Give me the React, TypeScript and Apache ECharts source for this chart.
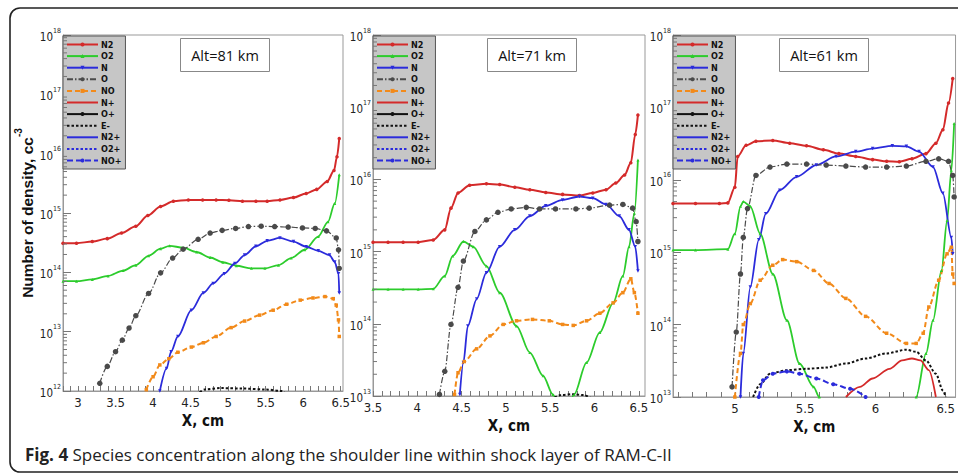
import React, { useEffect, useRef } from 'react';
import * as echarts from 'echarts';

type Pt = [number, number];

const speciesNames = ['N2', 'O2', 'N', 'O', 'NO', 'N+', 'O+', 'E-', 'N2+', 'O2+', 'NO+'];
const altitudeLabels = ['Alt=81 km', 'Alt=71 km', 'Alt=61 km'];
const xLabelValues = [3, 3.5, 4, 4.5, 5, 5.5, 6, 6.5];
const captionBold = 'Fig. 4';
const captionText = 'Species concentration along the shoulder line within shock layer of RAM-C-II';

// ---------- Alt = 81 km ----------
const alt81_N2: Pt[] = [[2.8, 3.1e14], [2.98, 3.1e14], [3.19, 3.3e14], [3.39, 3.7e14], [3.58, 4.6e14], [3.77, 6.0e14], [3.93, 9.1e14], [4.1, 1.29e15], [4.27, 1.58e15], [4.47, 1.66e15], [4.66, 1.66e15], [4.84, 1.66e15], [5.01, 1.64e15], [5.19, 1.58e15], [5.37, 1.58e15], [5.52, 1.58e15], [5.69, 1.66e15], [5.87, 1.82e15], [6.04, 2.14e15], [6.18, 2.5e15], [6.32, 3.4e15], [6.41, 5.2e15], [6.45, 8.9e15], [6.48, 1.8e16]];
const alt81_O2: Pt[] = [[2.8, 7.1e13], [2.98, 7.1e13], [3.19, 7.6e13], [3.4, 8.7e13], [3.6, 1.07e14], [3.77, 1.32e14], [3.94, 1.9e14], [4.1, 2.5e14], [4.22, 2.8e14], [4.4, 2.6e14], [4.58, 2.2e14], [4.76, 1.78e14], [4.93, 1.48e14], [5.11, 1.29e14], [5.31, 1.17e14], [5.49, 1.17e14], [5.67, 1.32e14], [5.84, 1.74e14], [6.02, 2.4e14], [6.2, 4.0e14], [6.33, 7.1e14], [6.42, 1.45e15], [6.48, 4.4e15]];
const alt81_N: Pt[] = [[4.09, 1.0e12], [4.18, 2.4e12], [4.24, 4.6e12], [4.33, 8.3e12], [4.51, 2.3e13], [4.67, 4.5e13], [4.8, 6.5e13], [4.95, 9.5e13], [5.09, 1.41e14], [5.22, 1.95e14], [5.37, 2.75e14], [5.52, 3.4e14], [5.69, 3.8e14], [5.87, 3.3e14], [6.04, 2.7e14], [6.2, 2.3e14], [6.35, 1.95e14], [6.42, 1.5e14], [6.47, 9.5e13], [6.48, 4.5e13]];
const alt81_O: Pt[] = [[3.29, 1.35e12], [3.39, 2.6e12], [3.5, 4.6e12], [3.59, 7.2e12], [3.68, 1.15e13], [3.77, 1.86e13], [3.94, 4.4e13], [4.1, 9.8e13], [4.26, 1.74e14], [4.4, 2.45e14], [4.6, 3.6e14], [4.76, 4.6e14], [4.92, 5.1e14], [5.1, 5.5e14], [5.27, 5.9e14], [5.44, 6.0e14], [5.62, 5.9e14], [5.8, 5.8e14], [5.99, 5.6e14], [6.16, 5.5e14], [6.31, 5.0e14], [6.44, 3.8e14], [6.47, 2.4e14], [6.48, 1.17e14]];
const alt81_NO: Pt[] = [[3.91, 1.05e12], [4.0, 1.74e12], [4.09, 2.75e12], [4.21, 3.5e12], [4.33, 4.5e12], [4.51, 5.5e12], [4.67, 6.5e12], [4.84, 8.3e12], [5.04, 1.17e13], [5.22, 1.51e13], [5.42, 1.9e13], [5.6, 2.3e13], [5.78, 2.9e13], [5.96, 3.4e13], [6.13, 3.7e13], [6.29, 3.9e13], [6.4, 3.6e13], [6.44, 2.8e13], [6.47, 1.58e13], [6.48, 8.3e12]];
const alt81_Em: Pt[] = [[4.62, 9.6e11], [4.7, 1.07e12], [4.9, 1.12e12], [5.2, 1.1e12], [5.5, 1.06e12], [5.72, 1.0e12], [5.76, 9.0e11]];

// ---------- Alt = 71 km ----------
const alt71_N2: Pt[] = [[3.5, 1.35e15], [3.67, 1.35e15], [3.84, 1.35e15], [4.01, 1.35e15], [4.18, 1.45e15], [4.31, 2.0e15], [4.38, 4.0e15], [4.46, 6.5e15], [4.59, 8.3e15], [4.78, 8.7e15], [4.93, 8.5e15], [5.1, 7.8e15], [5.27, 7.2e15], [5.45, 6.6e15], [5.64, 6.2e15], [5.83, 6.0e15], [5.98, 6.5e15], [6.13, 7.2e15], [6.24, 8.9e15], [6.34, 1.15e16], [6.41, 1.7e16], [6.46, 4.2e16], [6.49, 7.8e16]];
const alt71_O2: Pt[] = [[3.5, 3.0e14], [3.67, 3.0e14], [3.84, 3.0e14], [4.01, 3.0e14], [4.18, 3.05e14], [4.31, 4.6e14], [4.4, 8.7e14], [4.52, 1.38e15], [4.63, 1.17e15], [4.78, 6.3e14], [4.93, 2.7e14], [5.12, 9.3e13], [5.27, 4.0e13], [5.42, 1.9e13], [5.53, 1.05e13], [5.65, 4.0e12], [5.77, 1.05e13], [5.91, 2.9e13], [6.06, 7.6e13], [6.21, 1.95e14], [6.32, 4.6e14], [6.39, 1.17e15], [6.45, 3.4e15], [6.49, 1.86e16]];
const alt71_N: Pt[] = [[4.48, 1.05e13], [4.52, 2.9e13], [4.57, 9.3e13], [4.67, 2.2e14], [4.78, 5.1e14], [4.93, 1.17e15], [5.1, 2.0e15], [5.27, 3.1e15], [5.45, 4.3e15], [5.64, 5.2e15], [5.83, 5.8e15], [5.98, 5.5e15], [6.13, 4.5e15], [6.28, 3.1e15], [6.39, 2.0e15], [6.46, 1.17e15], [6.49, 5.4e14]];
const alt71_O: Pt[] = [[4.25, 1.05e13], [4.31, 2.2e13], [4.38, 9.8e13], [4.46, 3.2e14], [4.52, 7.4e14], [4.65, 1.9e15], [4.78, 2.75e15], [4.91, 3.5e15], [5.06, 3.9e15], [5.23, 4.1e15], [5.38, 3.9e15], [5.56, 3.9e15], [5.79, 3.9e15], [5.94, 4.0e15], [6.17, 4.4e15], [6.32, 4.5e15], [6.43, 4.0e15], [6.47, 2.6e15], [6.49, 1.38e15]];
const alt71_NO: Pt[] = [[4.42, 1.05e13], [4.46, 2.1e13], [4.53, 3.0e13], [4.67, 4.5e13], [4.82, 6.8e13], [4.97, 9.8e13], [5.12, 1.1e14], [5.3, 1.15e14], [5.49, 1.1e14], [5.64, 9.8e13], [5.76, 9.5e13], [5.91, 1.1e14], [6.06, 1.4e14], [6.21, 1.95e14], [6.32, 2.7e14], [6.41, 4.2e14], [6.45, 2.7e14], [6.49, 1.4e14]];
const alt71_Em: Pt[] = [[5.55, 9.5e12], [5.62, 1.03e13], [5.75, 1.06e13], [5.88, 1.03e13], [5.95, 9.5e12]];

// ---------- Alt = 61 km ----------
const alt61_N2: Pt[] = [[4.56, 4.7e15], [4.72, 4.7e15], [4.89, 4.7e15], [4.95, 4.8e15], [5.0, 7.9e15], [5.02, 2.1e16], [5.08, 3.0e16], [5.15, 3.4e16], [5.27, 3.5e16], [5.39, 3.2e16], [5.51, 2.95e16], [5.63, 2.6e16], [5.74, 2.3e16], [5.86, 2.1e16], [5.98, 1.9e16], [6.08, 1.8e16], [6.17, 1.78e16], [6.26, 1.95e16], [6.36, 2.3e16], [6.43, 3.2e16], [6.48, 4.9e16], [6.52, 1.15e17], [6.55, 2.5e17]];
const alt61_O2: Pt[] = [[4.56, 1.07e15], [4.72, 1.07e15], [4.95, 1.1e15], [5.0, 1.8e15], [5.04, 4.3e15], [5.06, 5.0e15], [5.11, 4.3e15], [5.18, 1.8e15], [5.27, 5.0e14], [5.37, 1.15e14], [5.46, 2.9e13], [5.56, 1.38e13], [5.6, 1.0e13], [5.65, 6.0e12], [6.26, 6.0e12], [6.29, 1.0e13], [6.36, 4.0e13], [6.41, 1.15e14], [6.47, 5.6e14], [6.51, 2.75e15], [6.54, 1.35e16], [6.56, 6.0e16]];
const alt61_N: Pt[] = [[5.04, 1.0e13], [5.06, 4.0e13], [5.11, 3.3e14], [5.17, 1.48e15], [5.22, 3.4e15], [5.32, 7.2e15], [5.44, 1.1e16], [5.58, 1.6e16], [5.72, 2.1e16], [5.86, 2.45e16], [5.98, 2.7e16], [6.12, 2.95e16], [6.22, 2.9e16], [6.31, 2.45e16], [6.41, 1.5e16], [6.48, 6.5e15], [6.54, 1.6e15], [6.55, 9.5e14]];
const alt61_O: Pt[] = [[4.98, 1.38e13], [5.01, 7.9e13], [5.04, 5.0e14], [5.06, 1.6e15], [5.09, 4.0e15], [5.15, 1.15e16], [5.25, 1.5e16], [5.37, 1.65e16], [5.51, 1.65e16], [5.65, 1.6e16], [5.79, 1.55e16], [5.93, 1.5e16], [6.08, 1.5e16], [6.22, 1.55e16], [6.36, 1.8e16], [6.45, 1.95e16], [6.52, 1.8e16], [6.55, 1.15e16], [6.56, 5.8e15]];
const alt61_NO: Pt[] = [[5.0, 1.0e13], [5.04, 4.0e13], [5.06, 1.0e14], [5.11, 1.95e14], [5.18, 4.1e14], [5.27, 6.6e14], [5.34, 7.9e14], [5.44, 7.4e14], [5.56, 5.6e14], [5.67, 3.7e14], [5.79, 2.3e14], [5.93, 1.3e14], [6.08, 7.6e13], [6.22, 5.5e13], [6.29, 5.5e13], [6.34, 7.6e13], [6.38, 1.75e14], [6.45, 4.1e14], [6.51, 9.5e14], [6.54, 1.17e15], [6.55, 5.0e14], [6.56, 3.7e14]];
const alt61_Em: Pt[] = [[5.13, 1.0e13], [5.18, 1.5e13], [5.25, 2.1e13], [5.37, 2.35e13], [5.51, 2.45e13], [5.65, 2.55e13], [5.79, 2.9e13], [5.93, 3.4e13], [6.08, 4.0e13], [6.22, 4.5e13], [6.29, 4.2e13], [6.36, 3.2e13], [6.43, 2.1e13], [6.48, 1.23e13], [6.5, 1.0e13]];
const alt61_NOp: Pt[] = [[5.17, 1.0e13], [5.2, 1.7e13], [5.27, 2.1e13], [5.37, 2.25e13], [5.46, 2.1e13], [5.58, 1.8e13], [5.7, 1.5e13], [5.82, 1.3e13], [5.93, 1.0e13]];
const alt61_Np: Pt[] = [[5.79, 1.0e13], [5.89, 1.38e13], [5.98, 1.8e13], [6.1, 2.45e13], [6.19, 3.2e13], [6.26, 3.4e13], [6.32, 3.2e13], [6.38, 2.35e13], [6.43, 1.0e13]];

const panelData: Record<string, Pt[]>[] = [
  { N2: alt81_N2, O2: alt81_O2, N: alt81_N, O: alt81_O, NO: alt81_NO, 'E-': alt81_Em },
  { N2: alt71_N2, O2: alt71_O2, N: alt71_N, O: alt71_O, NO: alt71_NO, 'E-': alt71_Em },
  { N2: alt61_N2, O2: alt61_O2, N: alt61_N, O: alt61_O, NO: alt61_NO, 'E-': alt61_Em, 'NO+': alt61_NOp, 'N+': alt61_Np },
];

// axis ranges per panel
const xMins = [2.8, 3.5, 4.56];
const xMaxs = [6.53, 6.57, 6.57];
const yMinExp = [12, 13, 13];
const yMaxExp = [18, 18, 18];

const NARROW = "'Liberation Sans Narrow', 'Arial Narrow', 'DejaVu Sans Condensed', sans-serif";

const RED = '#d42a2a';
const GREEN = '#2ccc2c';
const BLUE = '#2b2bdb';
const GRAY = '#4a4a4a';
const ORANGE = '#f28a1a';
const BLACK = '#111111';

const styleOf: Record<string, any> = {
  N2: { color: RED, width: 2, type: 'solid', symbol: 'circle', size: 3.5 },
  O2: { color: GREEN, width: 1.8, type: 'solid', symbol: 'triangle', size: 3 },
  N: { color: BLUE, width: 1.8, type: 'solid', symbol: 'triangle', size: 3.5, rotate: 180 },
  O: { color: GRAY, width: 1.2, type: [6, 2, 1.5, 2], symbol: 'circle', size: 5.5 },
  NO: { color: ORANGE, width: 2, type: [5, 3], symbol: 'rect', size: 3.5 },
  'N+': { color: RED, width: 1.8, type: 'solid', symbol: 'none', size: 0 },
  'O+': { color: BLACK, width: 2, type: 'solid', symbol: 'circle', size: 4 },
  'E-': { color: BLACK, width: 2, type: [2.5, 2], symbol: 'none', size: 0 },
  'N2+': { color: BLUE, width: 2, type: 'solid', symbol: 'none', size: 0 },
  'O2+': { color: BLUE, width: 2, type: [2.5, 2], symbol: 'none', size: 0 },
  'NO+': { color: BLUE, width: 2, type: [6, 3], symbol: 'circle', size: 4 },
};

const grids = [
  { left: 63, top: 35, width: 280, height: 356 },
  { left: 373, top: 35, width: 272, height: 361 },
  { left: 673, top: 35, width: 284, height: 362 },
];

function buildOption() {
  const xAxis: any[] = [];
  const yAxis: any[] = [];
  const series: any[] = [];
  const legend: any[] = [];
  const graphic: any[] = [];

  // figure frame
  graphic.push({
    type: 'rect', silent: true, z: -10,
    shape: { x: 10, y: 8, width: 980, height: 464, r: 10 },
    style: { fill: 'none', stroke: '#222', lineWidth: 1.6 },
  });

  const legendData = speciesNames.map(name => (
    styleOf[name].symbol === 'none' ? { name, itemStyle: { opacity: 0 } } : { name }
  ));

  grids.forEach((g, i) => {
    const ticks: number[] = [];
    for (let t = Math.ceil(xMins[i] * 10); t <= Math.floor(xMaxs[i] * 10 + 1e-6); t++) ticks.push(t / 10);
    const labels = xLabelValues.filter(v => v >= xMins[i] - 1e-6 && v <= xMaxs[i] + 1e-6);
    xAxis.push({
      type: 'value', gridIndex: i, min: xMins[i], max: xMaxs[i],
      name: 'X, cm', nameLocation: 'middle', nameGap: i === 0 ? 19 : 17,
      nameTextStyle: { fontFamily: NARROW, fontWeight: 'bold', fontSize: 15, color: '#111' },
      axisLine: { show: true, onZero: false, lineStyle: { color: '#999', width: 1 } },
      axisTick: { show: true, inside: true, length: 5, customValues: ticks, lineStyle: { color: '#777' } },
      axisLabel: { customValues: labels, fontFamily: NARROW, fontSize: 13, color: '#222', margin: 5 },
      splitLine: { show: false },
    });
    const yAx: any = {
      type: 'log', logBase: 10, gridIndex: i,
      min: Math.pow(10, yMinExp[i]), max: Math.pow(10, yMaxExp[i]),
      splitNumber: 5,
      axisLine: { show: true, lineStyle: { color: '#999', width: 1 } },
      axisTick: { show: true, inside: true, length: 8, lineStyle: { color: '#777' } },
      splitLine: { show: false },
      axisLabel: {
        margin: 2,
        showMinLabel: true, showMaxLabel: true,
        formatter: (v: number) => `{b|10}{s|${Math.round(Math.log10(v))}}`,
        rich: {
          b: { fontFamily: NARROW, fontSize: 11.5, color: '#222', verticalAlign: 'bottom', padding: [4, 0, 0, 0] },
          s: { fontFamily: NARROW, fontSize: 7, color: '#222', verticalAlign: 'top' },
        },
      },
    };
    if (i === 0) {
      yAx.name = '{t|Number of density, cc}{s|-3}';
      yAx.nameLocation = 'middle';
      yAx.nameRotate = 90;
      yAx.nameGap = 21;
      yAx.nameTextStyle = {
        rich: {
          t: { fontFamily: 'Liberation Sans, Arial, sans-serif', fontWeight: 'bold', fontSize: 15.5, color: '#111', verticalAlign: 'bottom', padding: [6, 0, 0, 0] },
          s: { fontFamily: 'Liberation Sans, Arial, sans-serif', fontWeight: 'bold', fontSize: 10, color: '#111', verticalAlign: 'top' },
        },
      };
    }
    yAxis.push(yAx);

    speciesNames.forEach(name => {
      const st = styleOf[name];
      series.push({
        name, type: 'line', xAxisIndex: i, yAxisIndex: i,
        data: panelData[i][name] || [],
        smooth: 0.3, smoothMonotone: 'x',
        symbol: st.symbol, symbolSize: st.size, symbolRotate: st.rotate || 0,
        showSymbol: st.symbol !== 'none',
        color: st.color,
        itemStyle: { color: st.color },
        lineStyle: { color: st.color, width: st.width, type: st.type },
        clip: true, z: 3,
      });
    });

    // y minor ticks (log 2..9 per decade)
    const minorY: Pt[] = [];
    for (let e = yMinExp[i]; e < yMaxExp[i]; e++) {
      for (let k = 2; k <= 9; k++) minorY.push([xMins[i], k * Math.pow(10, e)]);
    }
    series.push({
      name: '__minor' + i, type: 'custom', xAxisIndex: i, yAxisIndex: i, silent: true, z: 4,
      data: minorY,
      renderItem: (params: any, api: any) => {
        const p = api.coord([api.value(0), api.value(1)]);
        return { type: 'line', shape: { x1: p[0], y1: p[1], x2: p[0] + 4, y2: p[1] }, style: { stroke: '#777', lineWidth: 1 } };
      },
    });

    legend.push({
      orient: 'vertical', left: g.left, top: 36,
      data: legendData, selectedMode: false,
      backgroundColor: '#c6c6c6', borderColor: '#555', borderWidth: 1,
      padding: [4, 4, 4, 3], itemWidth: 31, itemHeight: 5, itemGap: 2.6,
      textStyle: { fontFamily: NARROW, fontSize: 9, fontWeight: 'bold', color: '#111', padding: [0, 0, 0, -2] },
    });

    const bx = [180, 487, 779][i];
    graphic.push({
      type: 'group', left: bx, top: 38,
      children: [
        { type: 'rect', shape: { x: 0, y: 0, width: 89, height: 33 }, style: { fill: '#fff', stroke: '#888', lineWidth: 1 } },
        { type: 'text', x: 44.5, y: 17, style: { text: altitudeLabels[i], fontFamily: "'Open Sans', sans-serif", fontSize: 14.5, fontWeight: 500, fill: '#111', align: 'center', verticalAlign: 'middle' } },
      ],
    });
  });

  graphic.push({
    type: 'text', left: 25, top: 446,
    style: {
      text: `{b|${captionBold}} ${captionText}`,
      fontFamily: "'Open Sans', sans-serif", fontSize: 17, fill: '#222',
      rich: { b: { fontFamily: "'Open Sans', sans-serif", fontWeight: 'bold', fontSize: 17, fill: '#222' } },
    },
  });

  return {
    animation: false,
    backgroundColor: '#fff',
    grid: grids.map(g => ({ ...g, show: true, borderColor: '#999', borderWidth: 1, backgroundColor: 'transparent' })),
    xAxis, yAxis, series, legend, graphic,
  };
}

export default function App() {
  const ref = useRef<HTMLDivElement>(null);
  useEffect(() => {
    if (!ref.current) return;
    const chart = echarts.init(ref.current, undefined, { renderer: 'svg' });
    chart.setOption(buildOption() as any);
    return () => chart.dispose();
  }, []);
  return <div ref={ref} style={{ position: 'fixed', left: 0, top: 0, width: 958, height: 475, background: '#fff' }} />;
}
